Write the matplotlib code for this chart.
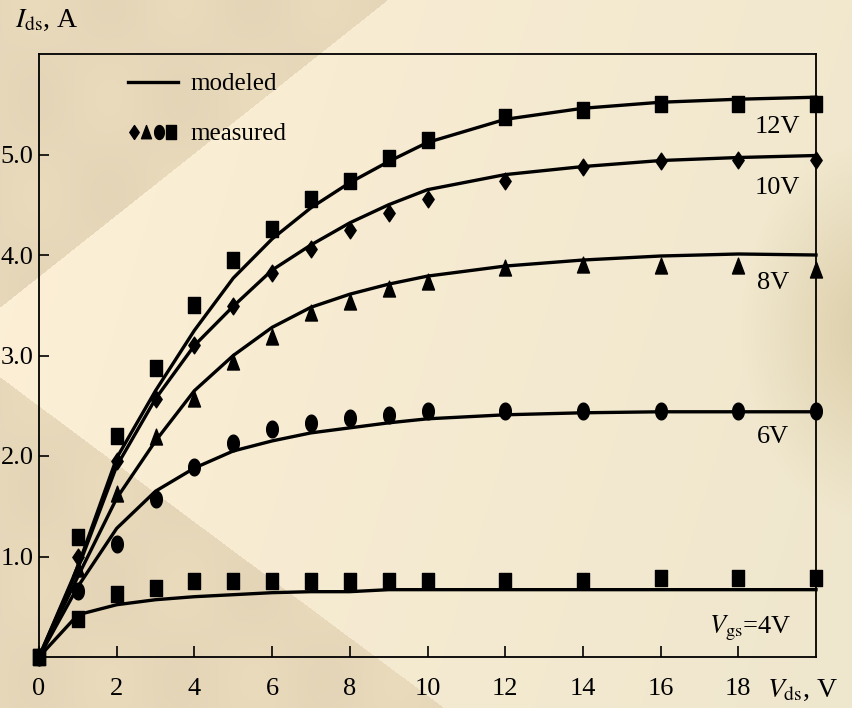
import numpy as np
import matplotlib
matplotlib.use("Agg")
import matplotlib.pyplot as plt
from matplotlib.lines import Line2D
from matplotlib.legend_handler import HandlerTuple
from matplotlib.path import Path

plt.rcParams['font.family'] = ['Liberation Serif', 'DejaVu Serif']
plt.rcParams['mathtext.fontset'] = 'stix'

# measured points (V_ds)
vds_meas = [0, 1, 2, 3, 4, 5, 6, 7, 8, 9, 10, 12, 14, 16, 18, 20]
meas_12 = [0, 1.19, 2.20, 2.88, 3.50, 3.95, 4.26, 4.56, 4.74, 4.97, 5.14, 5.37, 5.44, 5.50, 5.50, 5.50]
meas_10 = [0, 1.00, 1.95, 2.57, 3.10, 3.49, 3.82, 4.06, 4.25, 4.42, 4.56, 4.74, 4.88, 4.94, 4.95, 4.95]
meas_8 = [0, 0.88, 1.62, 2.19, 2.57, 2.94, 3.18, 3.42, 3.53, 3.66, 3.73, 3.87, 3.90, 3.89, 3.89, 3.85]
meas_6 = [0, 0.66, 1.12, 1.57, 1.89, 2.13, 2.27, 2.33, 2.38, 2.41, 2.45, 2.45, 2.45, 2.45, 2.45, 2.45]
meas_4 = [0, 0.38, 0.63, 0.69, 0.76, 0.76, 0.76, 0.76, 0.76, 0.76, 0.76, 0.76, 0.76, 0.79, 0.79, 0.79]

# modeled curves
vds_mod = [0, 1, 2, 3, 4, 5, 6, 7, 8, 9, 10, 12, 14, 16, 18, 20]
mod_12 = [0, 0.90, 1.98, 2.65, 3.25, 3.77, 4.16, 4.47, 4.72, 4.93, 5.12, 5.35, 5.46, 5.52, 5.55, 5.57]
mod_10 = [0, 0.88, 1.90, 2.57, 3.10, 3.49, 3.85, 4.10, 4.32, 4.50, 4.65, 4.80, 4.88, 4.94, 4.97, 4.99]
mod_8 = [0, 0.80, 1.58, 2.15, 2.65, 3.00, 3.28, 3.48, 3.61, 3.71, 3.79, 3.89, 3.95, 3.99, 4.01, 4.00]
mod_6 = [0, 0.70, 1.28, 1.65, 1.88, 2.05, 2.15, 2.23, 2.28, 2.33, 2.37, 2.41, 2.43, 2.44, 2.44, 2.44]
mod_4 = [0, 0.42, 0.52, 0.57, 0.60, 0.62, 0.64, 0.65, 0.65, 0.67, 0.67, 0.67, 0.67, 0.67, 0.67, 0.67]

curve_labels = ['12V', '10V', '8V', '6V']
label_x = [19.0, 19.0, 18.9, 18.9]
label_y = [5.27, 4.67, 3.72, 2.19]

# marker shapes (slightly tall, like the original)
def shape(xs, ys):
    v = list(zip(xs, ys))
    return Path(v + [v[0]], [Path.MOVETO] + [Path.LINETO] * (len(v) - 1) + [Path.CLOSEPOLY])

sq = shape([-0.7, 0.7, 0.7, -0.7], [-1, -1, 1, 1])
dia = shape([0, 0.68, 0, -0.68], [1, 0, -1, 0])
tri = shape([-0.72, 0.72, 0], [-0.9, -0.9, 1])
t = np.linspace(0, 2 * np.pi, 40)[:-1]
ell = shape(list(0.7 * np.cos(t)), list(np.sin(t)))

fig = plt.figure(figsize=(8.53, 7.08), dpi=100)

# background
H, W = 708, 853
yy, xx = np.mgrid[0:H, 0:W].astype(float)
light = np.array([253, 240, 214]) / 255.
right = np.array([238, 230, 205]) / 255.
spot = np.array([218, 203, 165]) / 255.
dark = np.array([234, 218, 188]) / 255.
f = np.clip((xx / W) * 0.8 + (yy / H) * 0.2, 0, 1)[..., None]
img = light * (1 - f) + right * f
d = np.sqrt(((xx - 870) / 130) ** 2 + ((yy - 330) / 190) ** 2)
g = np.clip(1 - d, 0, 1)[..., None] * 0.9
img = img * (1 - g) + spot * g
m_top = (xx / 387 + yy / 307) < 1
m_bot = yy > 377 + xx * 0.745
shade = 0.99 + 0.012 * np.sin(xx / 23.0) * np.cos(yy / 31.0)
img[m_top] = dark * shade[m_top][:, None]
img[m_bot] = dark * shade[m_bot][:, None]
bg = fig.add_axes([0, 0, 1, 1], zorder=-1)
bg.imshow(np.clip(img, 0, 1), aspect='auto', interpolation='bilinear')
bg.axis('off')

ax = fig.add_axes([39 / 853, 51 / 708, 777 / 853, 603 / 708])
ax.patch.set_alpha(0)

lw = 2.4
ms = 12
for ym in [mod_12, mod_10, mod_8, mod_6, mod_4]:
    ax.plot(vds_mod, ym, color='black', lw=lw, clip_on=False, zorder=3)
ax.plot(vds_meas, meas_12, ls='none', marker=sq, ms=ms, color='black', clip_on=False, zorder=4)
ax.plot(vds_meas, meas_10, ls='none', marker=dia, ms=ms, color='black', clip_on=False, zorder=4)
ax.plot(vds_meas, meas_8, ls='none', marker=tri, ms=ms, color='black', clip_on=False, zorder=4)
ax.plot(vds_meas, meas_6, ls='none', marker=ell, ms=ms, color='black', clip_on=False, zorder=4)
ax.plot(vds_meas, meas_4, ls='none', marker=sq, ms=ms, color='black', clip_on=False, zorder=4)

for lab, lx, ly in zip(curve_labels, label_x, label_y):
    ax.text(lx, ly, lab, fontsize=19, ha='center', va='center')
ax.text(18.3, 0.29, r'$V_{\rm gs}$=4V', fontsize=19, ha='center', va='center')

ax.set_xlim(0, 20)
ax.set_ylim(0, 6)
ax.set_xticks([0, 2, 4, 6, 8, 10, 12, 14, 16, 18])
ax.set_yticks([1, 2, 3, 4, 5])
ax.set_yticklabels(['1.0', '2.0', '3.0', '4.0', '5.0'])
ax.tick_params(axis='x', direction='in', length=8, width=1.2, labelsize=19, pad=15)
ax.tick_params(axis='y', direction='in', length=7, width=1.2, labelsize=19, pad=4)
for s in ax.spines.values():
    s.set_linewidth(1.3)

ax.text(18.75, -0.055, r'$V_{\rm ds}$, V', transform=ax.get_xaxis_transform(),
        fontsize=20, ha='left', va='center')
fig.text(15 / 853, 1 - 20 / 708, r'$I_{\rm ds}$, A', fontsize=20, ha='left', va='center')

h_line = Line2D([], [], color='black', lw=lw)
mk = tuple(Line2D([], [], ls='none', marker=m, ms=10, color='black') for m in [dia, tri, ell, sq])
leg = ax.legend([h_line, mk], ['modeled', 'measured'],
                handler_map={tuple: HandlerTuple(ndivide=None, pad=0.0)},
                loc='upper left', bbox_to_anchor=(0.085, 1.006), frameon=False,
                fontsize=18, handlelength=2.0, handletextpad=0.5, labelspacing=1.1)

fig.savefig('out.png', dpi=100)
